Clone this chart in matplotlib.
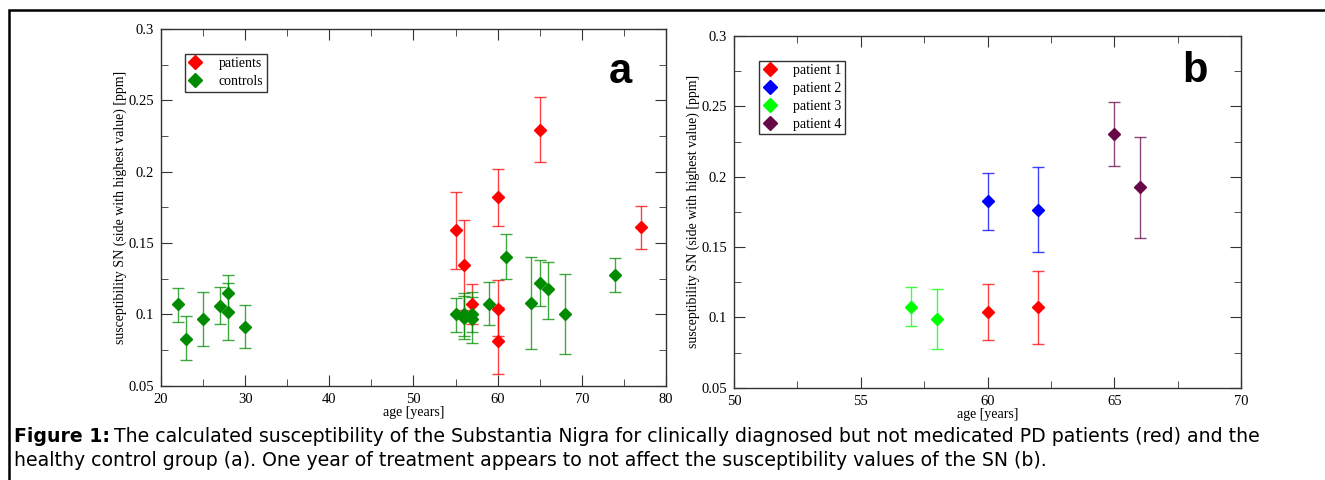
import matplotlib
matplotlib.use('Agg')
import matplotlib.pyplot as plt
import numpy as np
from matplotlib.ticker import MultipleLocator, FormatStrFormatter
from matplotlib.patches import Rectangle

# panel a: patients
pat_age = [55, 56, 57, 60, 60, 60, 65, 77]
pat_val = [0.159, 0.1345, 0.107, 0.182, 0.104, 0.0815, 0.2295, 0.161]
pat_hi = [0.186, 0.1665, 0.121, 0.2018, 0.124, 0.105, 0.2524, 0.1763]
pat_lo = [0.132, 0.103, 0.093, 0.162, 0.085, 0.058, 0.2065, 0.146]

# panel a: controls
ctl_age = [22, 23, 25, 27, 28, 28, 30, 55, 56, 56, 57, 57, 59, 61, 64, 65, 66, 68, 74]
ctl_val = [0.107, 0.0827, 0.0969, 0.106, 0.1147, 0.1016, 0.0913, 0.100, 0.100, 0.0972,
           0.1005, 0.097, 0.1075, 0.1403, 0.108, 0.122, 0.1175, 0.1004, 0.1278]
ctl_hi = [0.1186, 0.0986, 0.1156, 0.119, 0.1275, 0.1217, 0.1067, 0.1114, 0.1147, 0.113,
          0.116, 0.112, 0.1224, 0.1564, 0.140, 0.138, 0.137, 0.128, 0.1396]
ctl_lo = [0.095, 0.0678, 0.078, 0.093, 0.1025, 0.082, 0.0766, 0.0876, 0.085, 0.083,
          0.088, 0.080, 0.0925, 0.1245, 0.076, 0.106, 0.097, 0.0724, 0.1158]

# panel b: follow-up of four patients
b_names = ['patient 1', 'patient 2', 'patient 3', 'patient 4']
b_age = [[60, 62], [60, 62], [57, 58], [65, 66]]
b_val = [[0.1042, 0.1073], [0.1826, 0.1764], [0.1075, 0.099], [0.2304, 0.1925]]
b_hi = [[0.1241, 0.1333], [0.2025, 0.2067], [0.1217, 0.1203], [0.2534, 0.2285]]
b_lo = [[0.0843, 0.0813], [0.1625, 0.1466], [0.0936, 0.0779], [0.2074, 0.1563]]
b_colors = ['#ff0000', '#0000ff', '#00ff00', '#670748']

caption1 = ('The calculated susceptibility of the Substantia Nigra for clinically diagnosed '
            'but not medicated PD patients (red) and the')
caption2 = ('healthy control group (a). One year of treatment appears to not affect the '
            'susceptibility values of the SN (b).')

serif = 'Liberation Serif'
sans = 'Liberation Sans'
capfont = 'DejaVu Sans'
W, H = 1325, 480


def draw(ax, x, y, lo, hi, color, label):
    y = np.array(y)
    err = [y - np.array(lo), np.array(hi) - y]
    ax.errorbar(x, y, yerr=err, fmt='none', ecolor=color, elinewidth=1.0,
                capsize=4, capthick=1.0, alpha=0.75, zorder=2)
    ax.plot(x, y, 'D', color=color, ms=6.5, mec=color, label=label, zorder=3, ls='none')


def style(ax, xmaj, xmin):
    ax.set_ylim(0.05, 0.3)
    ax.yaxis.set_major_locator(MultipleLocator(0.05))
    ax.yaxis.set_minor_locator(MultipleLocator(0.025))
    ax.yaxis.set_major_formatter(FormatStrFormatter('%g'))
    ax.xaxis.set_major_locator(MultipleLocator(xmaj))
    ax.xaxis.set_minor_locator(MultipleLocator(xmin))
    ax.tick_params(which='both', direction='in', top=True, right=True, color='#333333',
                   labelsize=10.5, pad=5)
    ax.tick_params(which='major', length=8)
    ax.tick_params(which='minor', length=5)
    for lab in ax.get_xticklabels() + ax.get_yticklabels():
        lab.set_fontfamily(serif)
    for s in ax.spines.values():
        s.set_color('#333333')
        s.set_linewidth(1.0)
    ax.set_xlabel('age [years]', fontfamily=serif, fontsize=10, labelpad=0)
    ax.set_ylabel('susceptibility SN (side with highest value) [ppm]', fontfamily=serif,
                  fontsize=10, labelpad=1)


def legend(ax, x0, y0):
    leg = ax.legend(loc='upper left', bbox_to_anchor=(x0, y0), prop={'family': serif, 'size': 10},
                    frameon=True, fancybox=False, edgecolor='black', handletextpad=1.2,
                    borderpad=0.25, labelspacing=0.35, handlelength=1.0, borderaxespad=0,
                    markerscale=1.15)
    leg.get_frame().set_linewidth(1.0)
    return leg


fig = plt.figure(figsize=(13.25, 4.8), dpi=100)

ax1 = fig.add_axes([0.1215, 0.196, 0.3811, 0.744])
draw(ax1, pat_age, pat_val, pat_lo, pat_hi, '#ff0000', 'patients')
draw(ax1, ctl_age, ctl_val, ctl_lo, ctl_hi, '#008b00', 'controls')
ax1.set_xlim(20, 80)
style(ax1, 10, 5)
ax1.text(0.91, 0.88, 'a', transform=ax1.transAxes, fontfamily=sans, fontweight='bold',
         fontsize=30, ha='center', va='center')
legend(ax1, 0.047, 0.93)

ax2 = fig.add_axes([0.554, 0.192, 0.3826, 0.733])
for i in range(4):
    draw(ax2, b_age[i], b_val[i], b_lo[i], b_hi[i], b_colors[i], b_names[i])
ax2.set_xlim(50, 70)
style(ax2, 5, 2.5)
ax2.text(0.91, 0.9, 'b', transform=ax2.transAxes, fontfamily=sans, fontweight='bold',
         fontsize=30, ha='center', va='center')
legend(ax2, 0.05, 0.93)

# outer frame (only top and left edges visible in the crop)
fig.patches.append(Rectangle((9 / W, -0.1), 1.2, (H - 10) / H + 0.1,
                             transform=fig.transFigure, fill=False, edgecolor='black',
                             linewidth=1.8))

# caption: size chosen so that line 1 ends near the right margin
fig.canvas.draw()
r = fig.canvas.get_renderer()


def caption(size):
    a = fig.text(14 / W, 1 - 437 / H, 'Figure 1:', fontfamily=capfont, fontweight='bold',
                 fontsize=size, va='center')
    x1 = a.get_window_extent(renderer=r).x1
    b = fig.text((x1 + 0.3 * size) / W, 1 - 437 / H, caption1, fontfamily=capfont,
                 fontsize=size, va='center')
    c = fig.text(14 / W, 1 - 460 / H, caption2, fontfamily=capfont, fontsize=size, va='center')
    return a, b, c


parts = caption(12)
end = parts[1].get_window_extent(renderer=r).x1
for p in parts:
    p.remove()
caption(12 * (1253 - 14) / (end - 14))

fig.savefig('out.png', dpi=100)
